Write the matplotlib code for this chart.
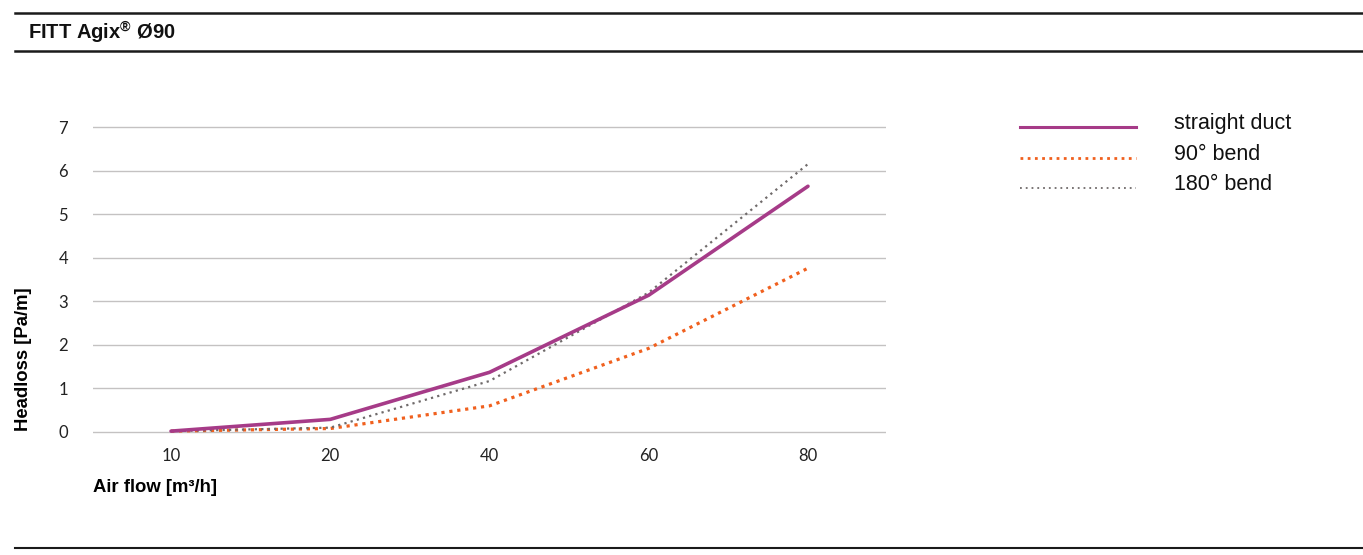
"""
Headloss chart for FITT Agix Ø90 duct.
"""

import matplotlib
matplotlib.use("Agg")
import matplotlib.pyplot as plt
from matplotlib.lines import Line2D

plt.rcParams["mathtext.fontset"] = "custom"
plt.rcParams["mathtext.rm"] = "Liberation Sans:bold"

# ── data ────────────────────────────────────
air_flow = ["10", "20", "40", "60", "80"]
straight_duct = [0.02, 0.29, 1.37, 3.14, 5.64]
bend_90 = [0.02, 0.08, 0.60, 1.92, 3.76]
bend_180 = [0.02, 0.10, 1.17, 3.20, 6.15]

C_STRAIGHT = "#a63b88"
C_90 = "#f0601e"
C_180 = "#6f6a6a"
C_GRID = "#c4c2c2"

W, H = 1363, 555
fig = plt.figure(figsize=(W / 100, H / 100), dpi=100)
fig.patch.set_facecolor("white")

# header / footer rules
def hline(y, lw):
    fig.add_artist(Line2D([15 / W, 1], [1 - y / H, 1 - y / H], color="#1a1a1a", lw=lw))

hline(12.5, 1.8)
hline(51, 1.8)
hline(548, 1.5)
fig.text(28 / W, 1 - 33 / H, "FITT Agix$^{\\mathrm{\u00ae}}$ \u00d890", fontsize=14.5,
         fontweight="bold", family="Liberation Sans", va="center", ha="left", color="#111111")

# ── axes ────────────────────────────────────
pad = 0.05
left, right, top, bottom = 93, 886, 127, 432
unit = (bottom - top) / 7
ax = fig.add_axes([left / W, 1 - (bottom + pad * unit) / H,
                   (right - left) / W, (bottom - top + 2 * pad * unit) / H])
x = range(len(air_flow))

ax.plot(x, bend_90, color=C_90, lw=2.3, linestyle=(0, (1, 1.5)), label="90° bend", zorder=3)
ax.plot(x, bend_180, color=C_180, lw=1.6, linestyle=(0, (1, 1.9)), label="180° bend", zorder=4)
ax.plot(x, straight_duct, color=C_STRAIGHT, lw=2.6, label="straight duct", zorder=5,
        solid_capstyle="round")

ax.set_xlim(-0.49, len(air_flow) - 0.51)
ax.set_ylim(-pad, 7 + pad)
ax.set_yticks(range(0, 8))
ax.set_xticks(list(x))
ax.set_xticklabels(air_flow)
ax.grid(axis="y", color=C_GRID, lw=1)
ax.set_axisbelow(True)
for s in ax.spines.values():
    s.set_visible(False)
ax.tick_params(length=0, labelsize=12, colors="#222222", labelfontfamily="Lato")
ax.tick_params(axis="y", pad=18)
ax.tick_params(axis="x", pad=10)

fig.text(93 / W, 1 - 488 / H, "Air flow [m\u00b3/h]", fontsize=13.3, fontweight="bold",
         family="Liberation Sans", va="center", ha="left")
fig.text(24 / W, 1 - 359 / H, "Headloss [Pa/m]", fontsize=13.3, fontweight="bold",
         family="Liberation Sans", va="center", ha="center", rotation=90)

# ── legend (drawn by hand to match positions) ──
rows = [("straight duct", C_STRAIGHT, "-", 2.2),
        ("90° bend", C_90, (0, (1, 1.6)), 2.0),
        ("180° bend", C_180, (0, (1, 2.2)), 1.3)]
for i, (name, col, ls, lw) in enumerate(rows):
    y = 1 - (127 + i * 30.5) / H
    fig.add_artist(Line2D([1020 / W, 1136 / W], [y, y], color=col, lw=lw, linestyle=ls))
    fig.text(1174 / W, y + 3 / H, name, fontsize=15.5, family="Liberation Sans", va="center",
             ha="left", color="#111111")

fig.savefig("out.png", dpi=100, facecolor="white")
